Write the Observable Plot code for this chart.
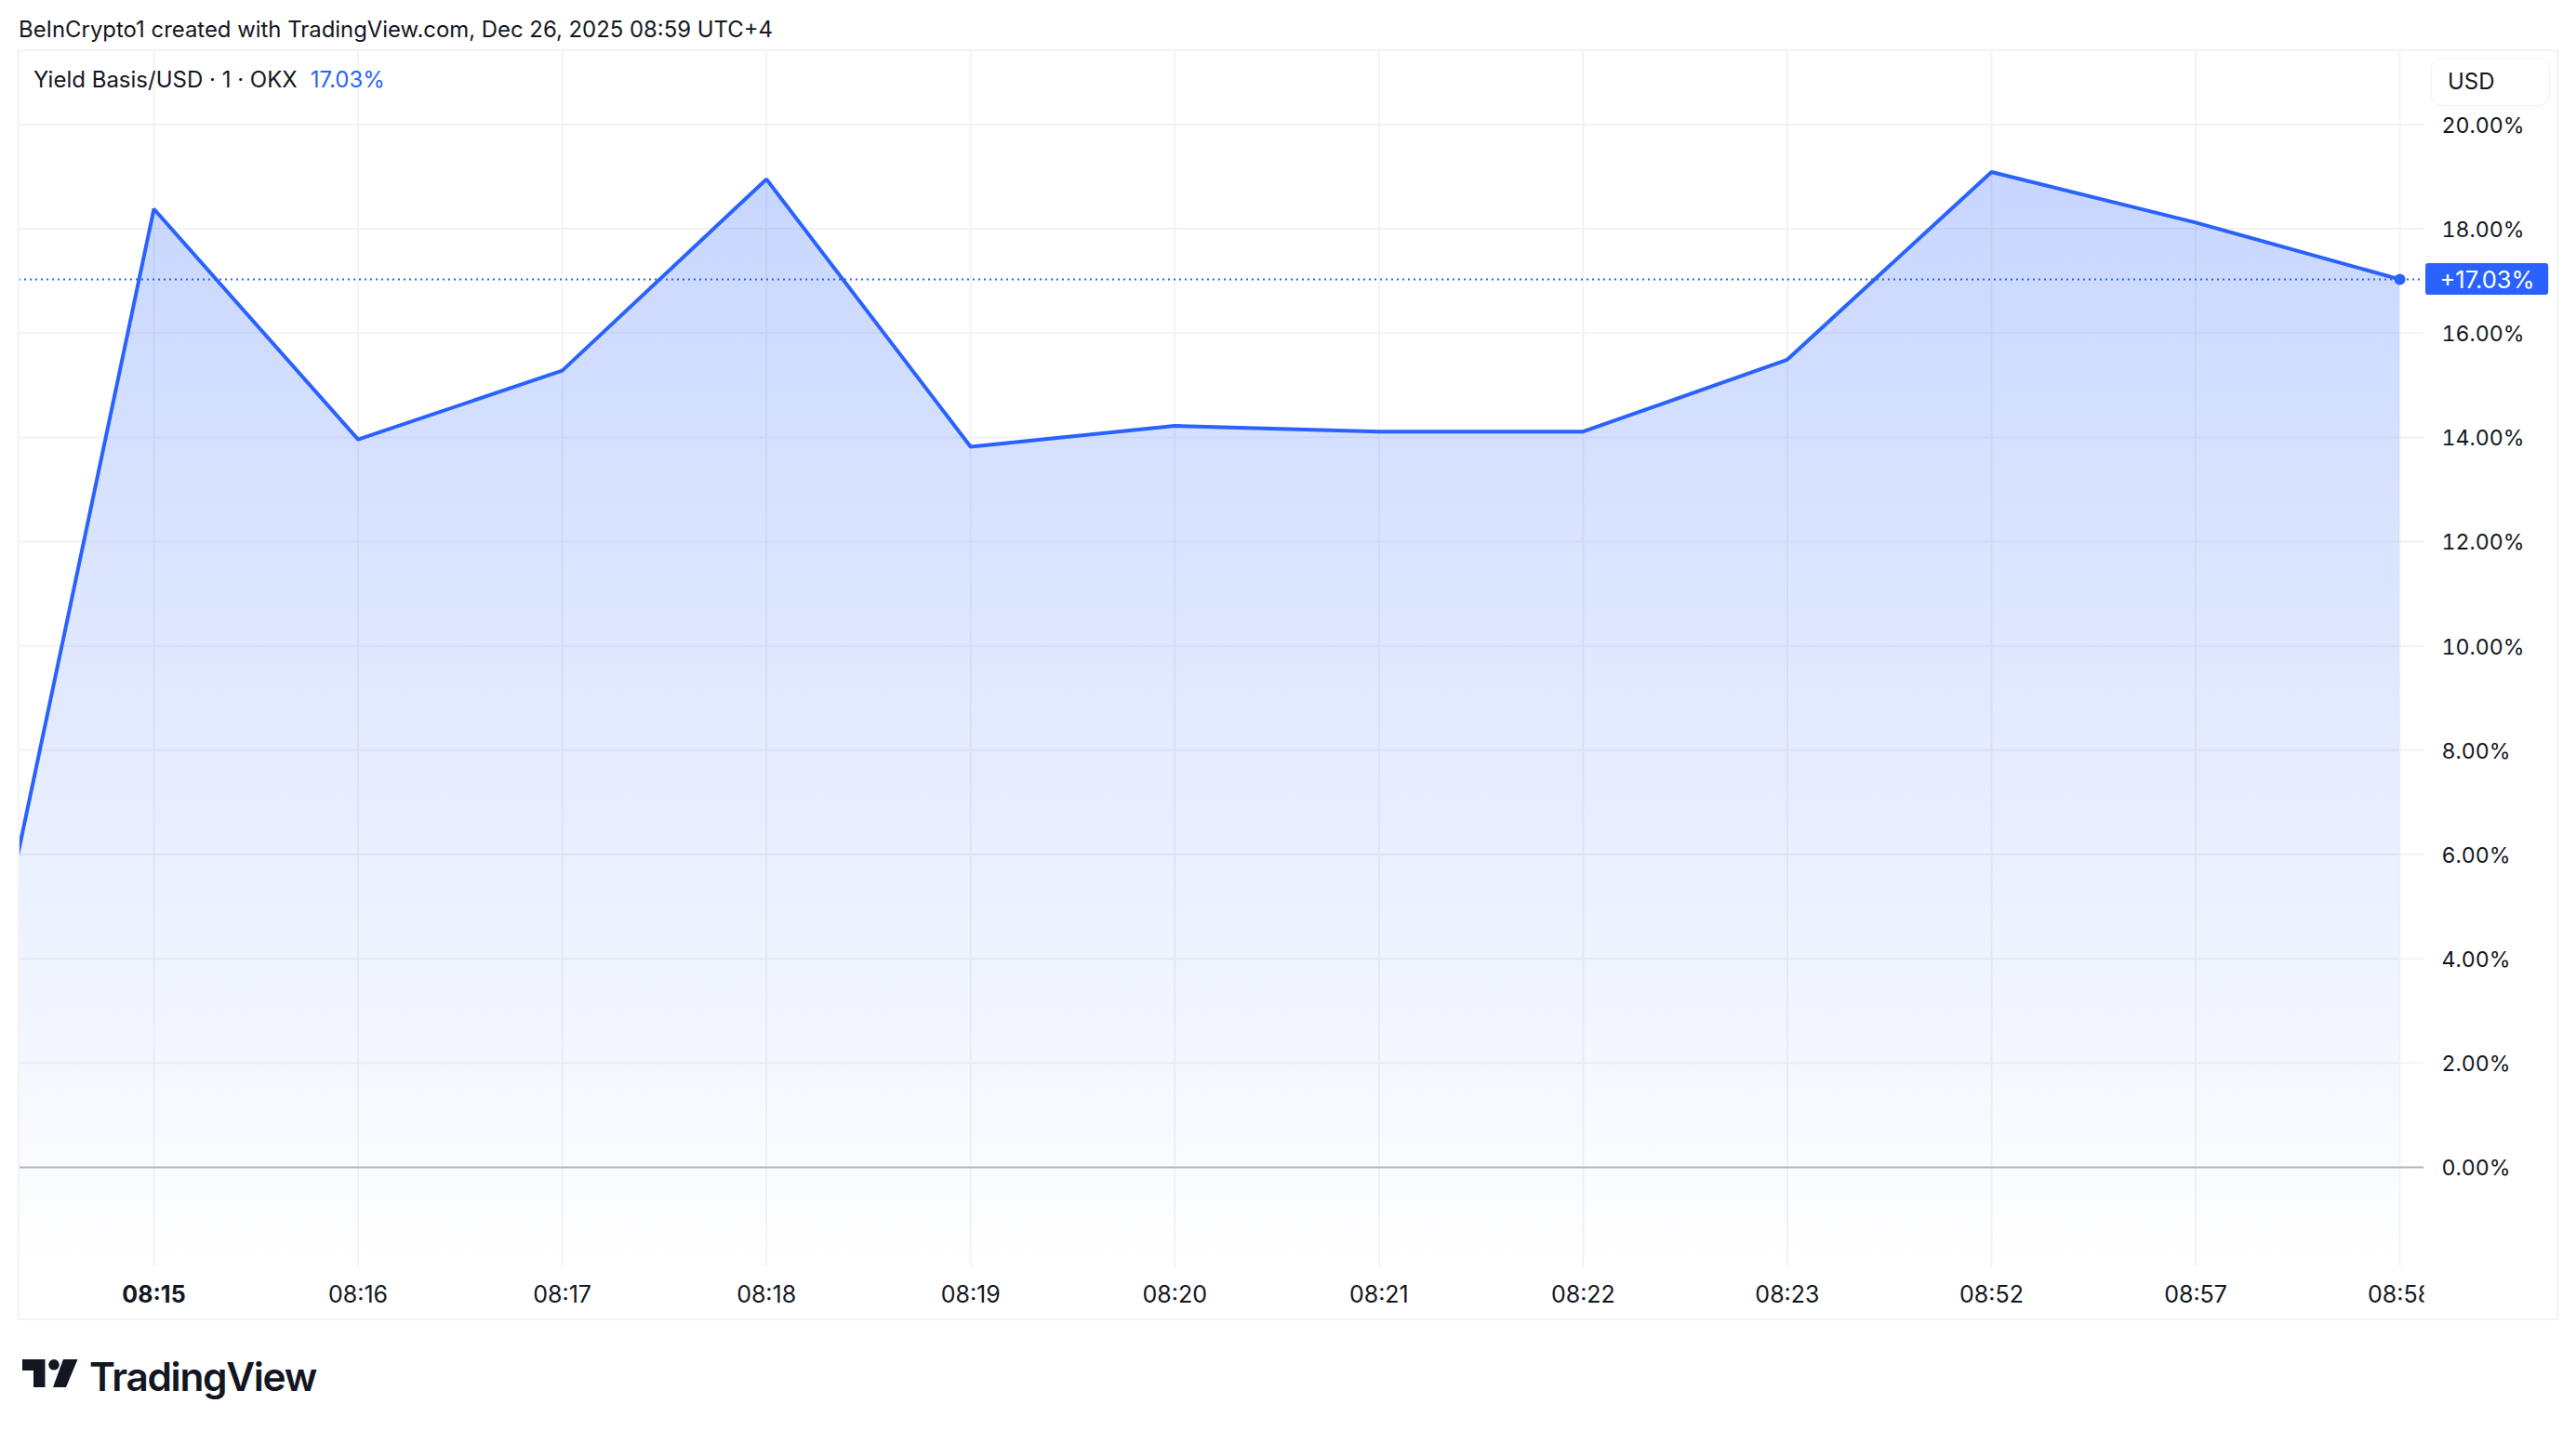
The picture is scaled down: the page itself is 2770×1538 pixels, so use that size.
<!DOCTYPE html>
<html>
<head>
<meta charset="utf-8">
<script src="https://cdn.jsdelivr.net/npm/d3@7"></script>
<script src="https://cdn.jsdelivr.net/npm/@observablehq/plot@0.6"></script>
<style>
html,body{margin:0;padding:0;background:#fff;overflow:hidden}
body{width:2770px;height:1538px;position:relative;font-family:Inter,"Noto Sans",sans-serif;color:#131722}
#head{height:54px;box-sizing:border-box;padding:18px 0 0 20px;font-size:23.9px;line-height:27px;white-space:nowrap}
#wrap{position:relative;width:2770px;height:1364px}
#frame{position:absolute;left:19px;top:-1px;width:2728px;height:1363px;border:2px solid #f3f3f5;box-sizing:content-box;pointer-events:none}
#legend{position:absolute;left:36px;top:18px;font-size:24px;line-height:28px;white-space:nowrap}
#legend b{font-weight:400;color:#2962ff;margin-left:14px}
#unit{position:absolute;left:2614px;top:8px;width:128px;height:52px;box-sizing:border-box;border:1.5px solid #f1f2f4;border-radius:11px;font-size:24px;line-height:49px;padding-left:17px;background:#fff}
#foot{position:absolute;left:24px;top:1462px;display:flex;align-items:flex-start}
#foot svg{display:block}
#foot span{position:absolute;left:72px;top:-7px;font-size:42.4px;line-height:52px;font-weight:600;letter-spacing:-1.3px;color:#131722;white-space:nowrap}
</style>
</head>
<body>
<div id="head">BeInCrypto1 created with TradingView.com, Dec 26, 2025 08:59 UTC+4</div>
<div id="wrap">
  <div id="chart"></div>
  <div id="frame"></div>
  <div id="legend">Yield Basis/USD · 1 · OKX<b>17.03%</b></div>
  <div id="unit">USD</div>
</div>
<div id="foot">
  <svg width="60" height="30" viewBox="0 0 60 30"><path fill="#131722" d="M0 0H24.5V30H12V12H0Z"/><circle cx="34" cy="5.8" r="5.8" fill="#131722"/><path fill="#131722" d="M44 0H59.5L47 30H33Z"/></svg>
  <span>TradingView</span>
</div>
<script>
// Time labels along the axis (bar index 0..11)
const timeLabels = ["08:15","08:16","08:17","08:18","08:19","08:20","08:21","08:22","08:23","08:52","08:57","08:58"];
// Percent change at each bar
const barIndex = [-1,0,1,2,3,4,5,6,7,8,9,10,11];
const percent  = [-0.2,18.38,13.96,15.28,18.95,13.82,14.22,14.11,14.11,15.49,19.09,18.12,17.03];
const yTicks   = [0,2,4,6,8,10,12,14,16,18,20];
const lastValue = 17.03;
const xDomain = [-0.6604, 11.118];
const yDomain = [-1.908, 21.416];
const labelSpan = [11.127, 11.729];
const labelHalf = 0.303;

const blue = "#2962ff", grid = "#f3f3f5", ink = "#131722";
const points = barIndex.map((x,i)=>({x, v:percent[i]}));
const labelled = timeLabels.map((t,i)=>({t,i}));
const fontSize = 23.2;
const timeStyle = {fontSize:25, style:{letterSpacing:"0.6px"}};

const defs = () => {
  const g = document.createElementNS("http://www.w3.org/2000/svg","defs");
  g.innerHTML = `<linearGradient id="fade" x1="0" y1="0" x2="0" y2="1">
    <stop offset="0" stop-color="${blue}" stop-opacity="0.26"/>
    <stop offset="1" stop-color="${blue}" stop-opacity="0"/></linearGradient>
    <clipPath id="paneClip"><rect x="20" y="0" width="2586" height="1364"/></clipPath>`;
  return g;
};
const clipToPane = (i,s,v,d,c,next) => {
  const g = next(i,s,v,d,c);
  g.setAttribute("clip-path","url(#paneClip)");
  return g;
};

const plot = Plot.plot({
  width: 2770, height: 1364,
  marginLeft: 20, marginRight: 164, marginTop: 0, marginBottom: 56,
  style: {fontFamily:"Inter, 'Noto Sans', sans-serif", fontSize: fontSize+"px", color: ink, background:"transparent", overflow:"visible"},
  x: {type:"linear", domain:xDomain, axis:null},
  y: {type:"linear", domain:yDomain, axis:null},
  marks: [
    defs,
    Plot.ruleX(d3.range(12), {x:d=>d, stroke:grid, strokeWidth:2}),
    Plot.ruleY(yTicks.filter(t=>t!==0), {y:d=>d, stroke:grid, strokeWidth:2}),
    Plot.areaY(points, {x:"x", y1:()=>yDomain[0], y2:"v", fill:"url(#fade)", clip:true}),
    Plot.ruleY([0], {stroke:"#b2b5be", strokeWidth:2}),
    Plot.ruleY([lastValue], {stroke:blue, strokeWidth:2, strokeDasharray:"2 4"}),
    Plot.line(points, {x:"x", y:"v", stroke:blue, strokeWidth:4, strokeLinejoin:"miter", clip:true}),
    Plot.dot([{x:11,v:lastValue}], {x:"x", y:"v", r:6, fill:blue, stroke:"none"}),
    Plot.axisY({anchor:"right", ticks:yTicks, tickSize:0, tickPadding:19, textAnchor:"start", dy:1.5, tickFormat:d=>d.toFixed(2)+"%", fill:ink, label:null}),
    Plot.text(labelled.filter(d=>d.i===0), {x:"i", text:"t", frameAnchor:"bottom", dy:30, lineAnchor:"middle", fontWeight:700, fill:ink, ...timeStyle}),
    Plot.text(labelled.filter(d=>d.i>0), {x:"i", text:"t", frameAnchor:"bottom", dy:30, lineAnchor:"middle", fill:ink, render:clipToPane, ...timeStyle}),
    Plot.rect([lastValue], {x1:labelSpan[0], x2:labelSpan[1], y1:d=>d-labelHalf, y2:d=>d+labelHalf, fill:blue, rx:3}),
    Plot.text([lastValue], {x:labelSpan[0], y:d=>d, dx:15, dy:1, textAnchor:"start", text:d=>"+"+d.toFixed(2)+"%", fill:"#fff", fontSize:25.5, style:{letterSpacing:"1.2px"}})
  ]
});
document.getElementById("chart").appendChild(plot);
</script>
</body>
</html>
